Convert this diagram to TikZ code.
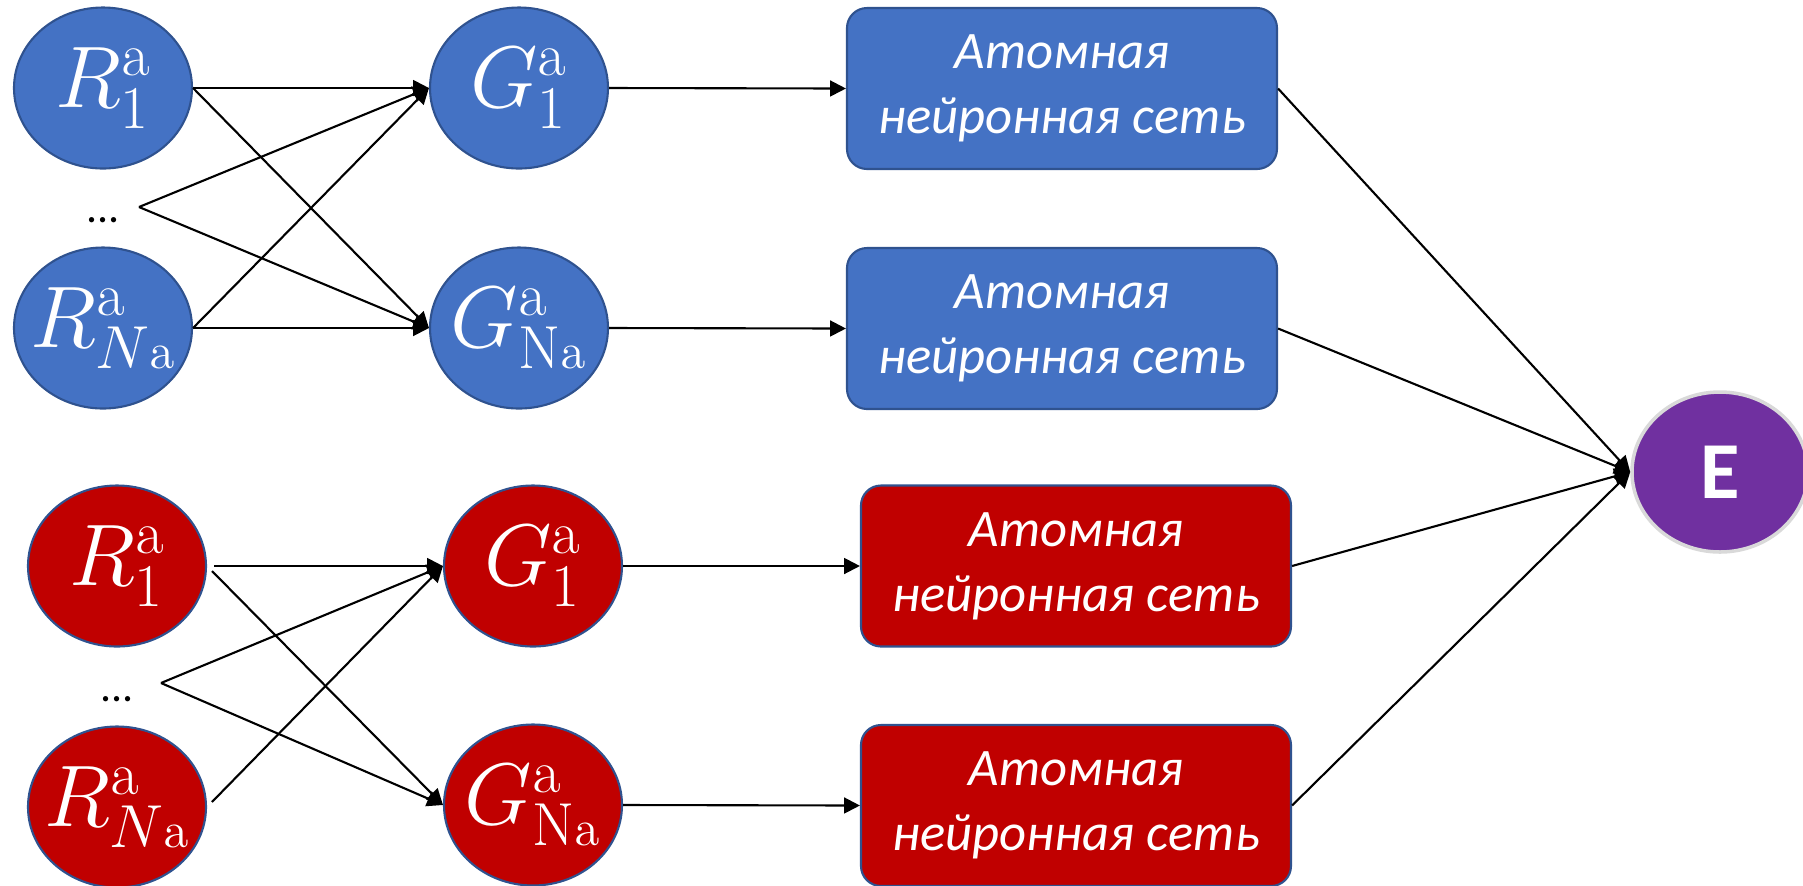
\documentclass[tikz,border=0pt]{standalone}
\usepackage[no-math]{fontspec}
\setmainfont{Carlito}
\usetikzlibrary{arrows.meta,shapes.geometric}
\DeclareMathSizes{25}{25}{19}{14}

\definecolor{atomblue}{HTML}{4472C4}
\definecolor{atomred}{HTML}{C00000}
\definecolor{rimblue}{HTML}{2F528F}
\definecolor{epurple}{HTML}{7030A0}
\definecolor{erim}{HTML}{D9D9D9}

\tikzset{
  bcirc/.style={ellipse, draw=rimblue, line width=0.6pt, fill=atomblue, text=white,
    minimum width=1.78cm, minimum height=1.61cm, inner sep=-8pt,
    font=\fontsize{25}{28}\selectfont},
  rcirc/.style={bcirc, fill=atomred},
  bnet/.style={rectangle, rounded corners=0.2cm, draw=rimblue, line width=0.6pt,
    fill=atomblue, text=white, minimum width=4.30cm, minimum height=1.61cm,
    align=center, font=\fontsize{15}{18.5}\selectfont\itshape},
  rnet/.style={bnet, fill=atomred},
  dotstext/.style={anchor=base, inner sep=0pt, font=\fontsize{12.5}{14}\selectfont},
  redgap/.style={shorten <=2pt},
}

\begin{document}
\begin{tikzpicture}[>={Triangle[length=4.5pt,width=4.5pt]}, line width=0.6pt]
\useasboundingbox (0,0) rectangle (18.03,-8.85);
% blue block
\draw (1.03,-0.88) node[bcirc] (r1b) {$R^{\mathrm{a}}_{1}$};
\draw (1.03,-3.28) node[bcirc] (rNb) {$R^{\mathrm{a}}_{N\scriptscriptstyle\mathrm{a}}$};
\draw (1.03,-2.22) node[dotstext] (dotsb) {...};
\coordinate (jb) at (1.39,-2.07);
%
\draw (5.19,-0.88) node[bcirc] (g1b) {$G^{\mathrm{a}}_{1}$};
\draw (5.19,-3.28) node[bcirc] (gNb) {$G^{\mathrm{a}}_{\mathrm{N}\scriptscriptstyle\mathrm{a}}$};
\path[draw, ->] (r1b.east) -- (g1b.west);
\path[draw, ->] (r1b.east) -- (gNb.west);
\path[draw, ->] (jb) -- (g1b.west);
\path[draw, ->] (jb) -- (gNb.west);
\path[draw, ->] (rNb.east) -- (g1b.west);
\path[draw, ->] (rNb.east) -- (gNb.west);
%
\draw (10.62,-0.885) node[bnet] (nn1b) {Атомная\\нейронная сеть};
\draw (10.62,-3.285) node[bnet] (nn2b) {Атомная\\нейронная сеть};
\path[draw, ->] (g1b.east) -- (nn1b.west);
\path[draw, ->] (gNb.east) -- (nn2b.west);
%
% red block
\draw (1.17,-5.66) node[rcirc] (r1r) {$R^{\mathrm{a}}_{1}$};
\draw (1.17,-8.07) node[rcirc] (rNr) {$R^{\mathrm{a}}_{N\scriptscriptstyle\mathrm{a}}$};
\draw (1.17,-7.01) node[dotstext] (dotsr) {...};
\coordinate (jr) at (1.61,-6.83);
%
\draw (5.33,-5.66) node[rcirc] (g1r) {$G^{\mathrm{a}}_{1}$};
\draw (5.33,-8.05) node[rcirc] (gNr) {$G^{\mathrm{a}}_{\mathrm{N}\scriptscriptstyle\mathrm{a}}$};
\path[draw, ->, redgap] (r1r.east) -- (g1r.west);
\path[draw, ->, redgap] (r1r.east) -- (gNr.west);
\path[draw, ->] (jr) -- (g1r.west);
\path[draw, ->] (jr) -- (gNr.west);
\path[draw, ->, redgap] (rNr.east) -- (g1r.west);
%
\draw (10.76,-5.66) node[rnet] (nn1r) {Атомная\\нейронная сеть};
\draw (10.76,-8.055) node[rnet] (nn2r) {Атомная\\нейронная сеть};
\path[draw, ->] (g1r.east) -- (nn1r.west);
\path[draw, ->] (gNr.east) -- (nn2r.west);
%
% energy
\draw (17.20,-4.72) node[ellipse, fill=epurple, draw=erim, line width=1pt,
  minimum width=1.76cm, minimum height=1.60cm, inner sep=0pt, text=white,
  font=\fontsize{23}{28}\selectfont\bfseries] (E) {E};
\path[draw, ->] (nn1b.east) -- (E.west);
\path[draw, ->] (nn2b.east) -- (E.west);
\path[draw, ->] (nn1r.east) -- (E.west);
\path[draw, ->] (nn2r.east) -- (E.west);
\end{tikzpicture}
\end{document}
